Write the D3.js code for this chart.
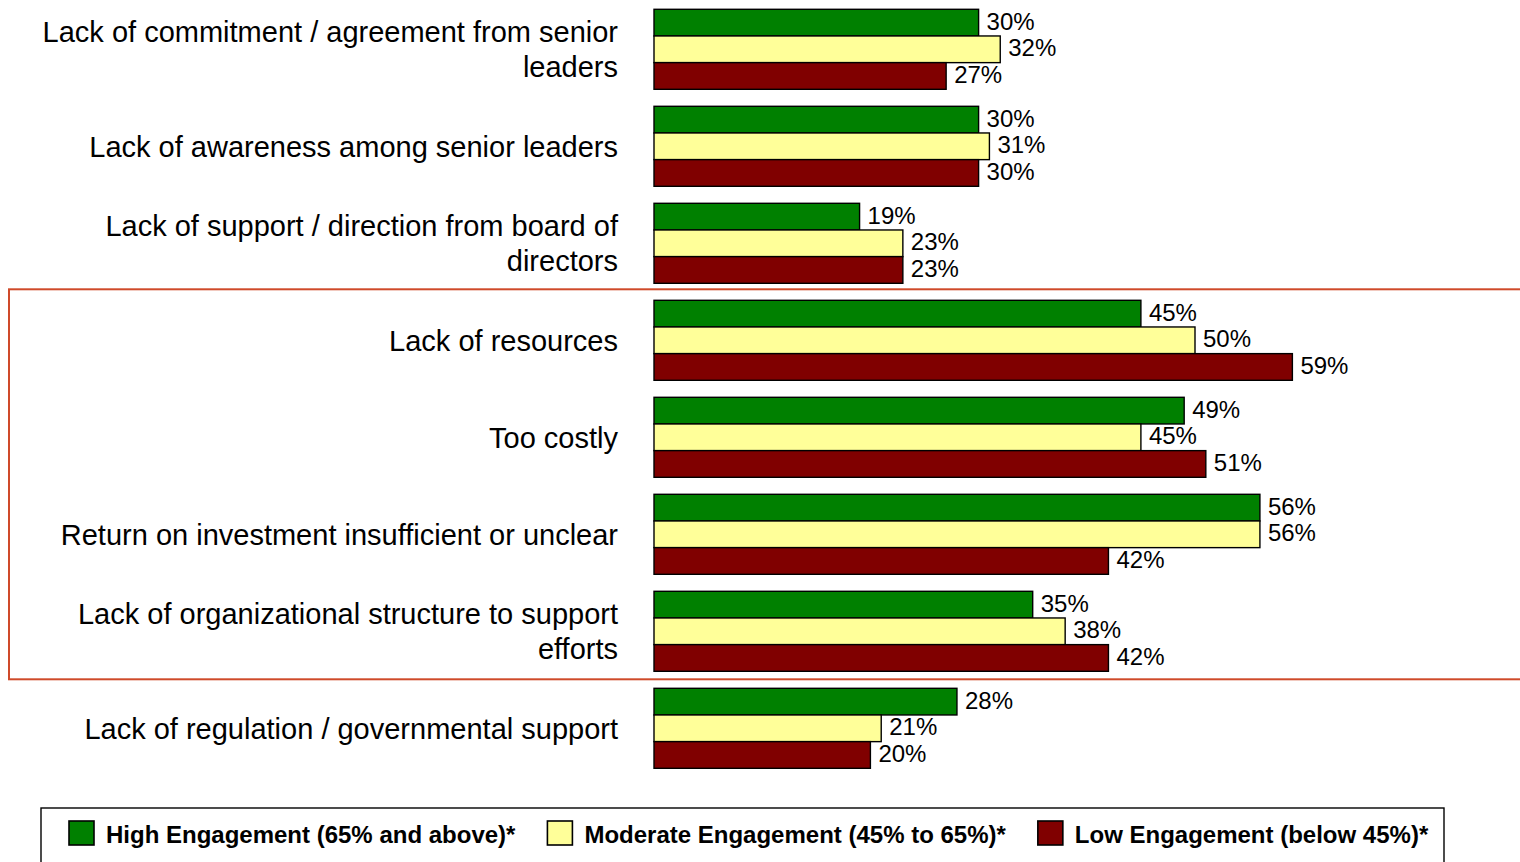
<!DOCTYPE html>
<html>
<head>
<meta charset="utf-8">
<script src="https://cdn.jsdelivr.net/npm/d3@7"></script>
<style>
  html, body { margin: 0; padding: 0; background: #fff; }
  svg { display: block; font-family: "Liberation Sans", Arial, sans-serif; }
</style>
</head>
<body>
<svg id="chart" width="1520" height="862"></svg>
<script>
// Barriers to engagement, by engagement level (percent of respondents)
const categories = [
  "Lack of commitment / agreement from senior leaders",
  "Lack of awareness among senior leaders",
  "Lack of support / direction from board of directors",
  "Lack of resources",
  "Too costly",
  "Return on investment insufficient or unclear",
  "Lack of organizational structure to support efforts",
  "Lack of regulation / governmental support"
];
const seriesNames = [
  "High Engagement (65% and above)*",
  "Moderate Engagement (45% to 65%)*",
  "Low Engagement (below 45%)*"
];
const highValues     = [30, 30, 19, 45, 49, 56, 35, 28];
const moderateValues = [32, 31, 23, 50, 45, 56, 38, 21];
const lowValues      = [27, 30, 23, 59, 51, 42, 42, 20];
const seriesColors   = ["#008000", "#FFFF99", "#800000"];
// categories framed as the resource / cost group
const framedCategories = ["Lack of resources", "Too costly",
  "Return on investment insufficient or unclear",
  "Lack of organizational structure to support efforts"];

const seriesValues = [highValues, moderateValues, lowValues];
const svg = d3.select("#chart");

const x = d3.scaleLinear().domain([0, 100]).range([654, 1736]);
const y = d3.scaleBand().domain(categories)
  .range([0.8, 776.8]).paddingInner(17 / 97).paddingOuter(17 / 194);
const ySub = d3.scaleBand().domain(d3.range(seriesNames.length))
  .range([0, y.bandwidth()]).padding(0);

// frame around the resource-related barriers
const fTop = y(framedCategories[0]) - 11;
const fBot = y(framedCategories[framedCategories.length - 1]) + y.bandwidth() + 8;
svg.append("rect")
  .attr("x", 9).attr("y", fTop)
  .attr("width", 1540).attr("height", fBot - fTop)
  .attr("fill", "none").attr("stroke", "#CF4A2A").attr("stroke-width", 2);

// category labels, wrapped to fit the left column
const labelRight = 618, maxLabelWidth = 600, lineGap = 35;
const labelG = svg.append("g").attr("font-size", 29).attr("fill", "#000");
categories.forEach(cat => {
  const cy = y(cat) + y.bandwidth() / 2;
  const words = cat.split(" ");
  const lines = [];
  let current = [];
  const probe = labelG.append("text").attr("visibility", "hidden");
  words.forEach(w => {
    const trial = current.concat([w]).join(" ");
    probe.text(trial);
    if (current.length && probe.node().getComputedTextLength() > maxLabelWidth) {
      lines.push(current.join(" "));
      current = [w];
    } else {
      current.push(w);
    }
  });
  lines.push(current.join(" "));
  probe.remove();
  const base = cy + 10.4 - (lines.length - 1) * lineGap / 2;
  lines.forEach((ln, i) => {
    labelG.append("text")
      .attr("x", labelRight).attr("y", base + i * lineGap)
      .attr("text-anchor", "end").text(ln);
  });
});

// bars
const groups = svg.append("g").selectAll("g")
  .data(categories).join("g")
  .attr("transform", c => `translate(0,${y(c)})`);

groups.each(function (cat, ci) {
  const g = d3.select(this);
  const rows = seriesValues.map((vals, si) => ({ si, v: vals[ci] }));
  g.selectAll("rect").data(rows).join("rect")
    .attr("x", x(0))
    .attr("y", d => ySub(d.si))
    .attr("width", d => x(d.v) - x(0))
    .attr("height", ySub.bandwidth())
    .attr("fill", d => seriesColors[d.si])
    .attr("stroke", "#000").attr("stroke-width", 1.4);
  g.selectAll("text").data(rows).join("text")
    .attr("x", d => x(d.v) + 8)
    .attr("y", d => ySub(d.si) + ySub.bandwidth() / 2 + 7)
    .attr("font-size", 24).attr("fill", "#000")
    .text(d => d.v + "%");
});

// legend
svg.append("rect")
  .attr("x", 41).attr("y", 808).attr("width", 1403).attr("height", 80)
  .attr("fill", "none").attr("stroke", "#000").attr("stroke-width", 1.4);

let lx = 69;
seriesNames.forEach((name, i) => {
  svg.append("rect")
    .attr("x", lx).attr("y", 821).attr("width", 25).attr("height", 24)
    .attr("fill", seriesColors[i]).attr("stroke", "#000").attr("stroke-width", 1.6);
  const t = svg.append("text")
    .attr("x", lx + 37).attr("y", 843)
    .attr("font-size", 24).attr("font-weight", "bold").attr("fill", "#000")
    .text(name);
  lx = lx + 37 + t.node().getComputedTextLength() + 32;
});
</script>
</body>
</html>
